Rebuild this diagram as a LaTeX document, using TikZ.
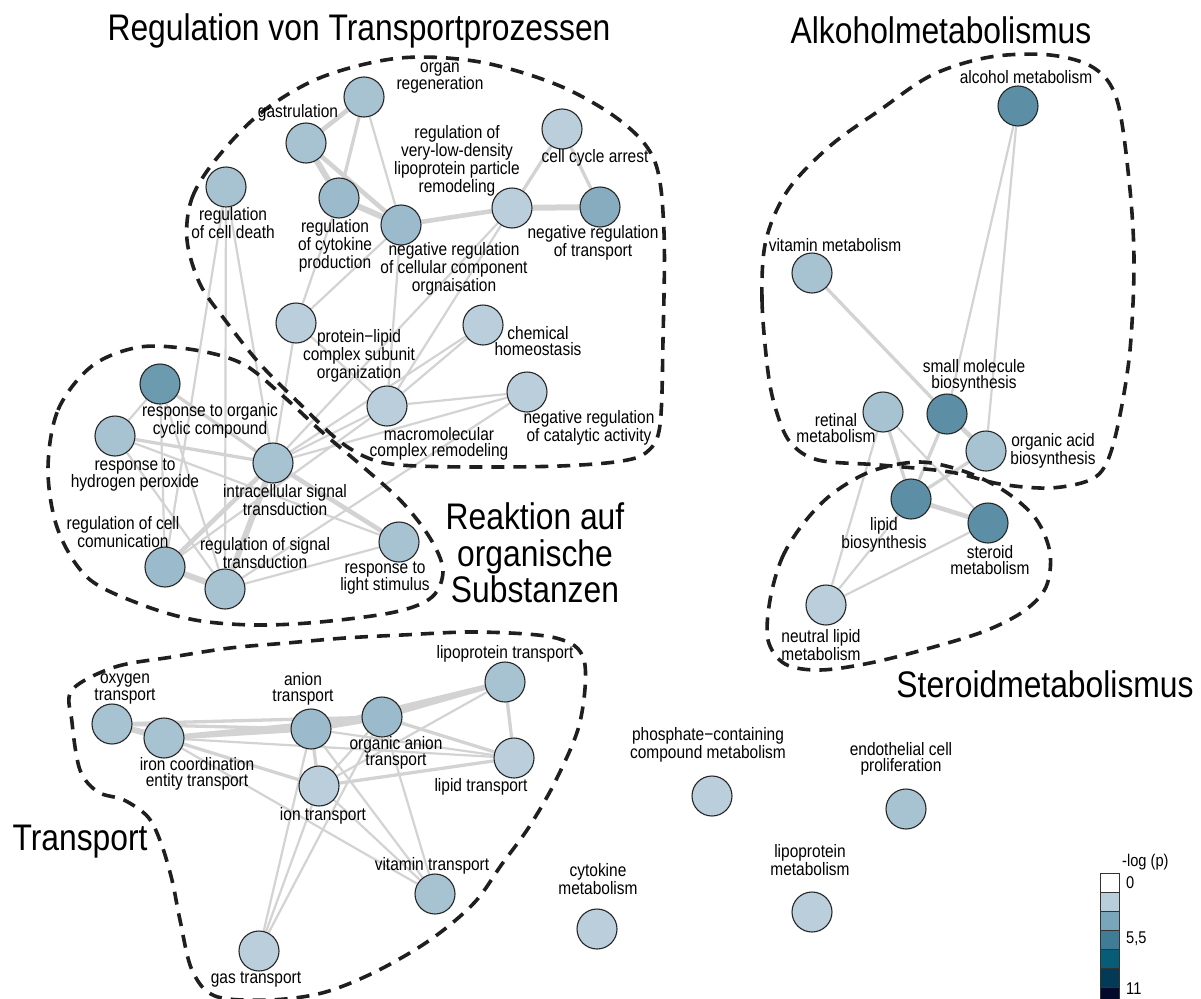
\documentclass[tikz,border=0pt]{standalone}
\usepackage{fontspec}
\setmainfont{Liberation Sans}[FakeStretch=0.86]
\usetikzlibrary{backgrounds}
\usepackage{xcolor}

\definecolor{edgegray}{HTML}{D3D3D3}
\definecolor{cA}{HTML}{BACFDB}
\definecolor{cB}{HTML}{A7C3D1}
\definecolor{cC}{HTML}{9BBACB}
\definecolor{cD}{HTML}{88ACBF}
\definecolor{cE}{HTML}{6C9BB0}
\definecolor{cF}{HTML}{5C8FA6}

\begin{document}
\begin{tikzpicture}[
		x=1pt, y=-1pt,
		% terms and labels
		term/.style={draw=black!85, circle, minimum size=40pt, inner sep=0pt, line width=1.1pt},
		lab/.style={font=\fontsize{18}{16.6}\selectfont, align=center, inner sep=0pt},
		heading/.style={font=\fontsize{37}{36.5}\selectfont, align=center, inner sep=0pt},
		% links between terms
		thin/.style={draw=edgegray, line width=2.2pt},
		mid/.style={draw=edgegray, line width=3.3pt},
		thick/.style={draw=edgegray, line width=4.6pt},
		heavy/.style={draw=edgegray, line width=6pt},
		% cluster outlines
		cluster/.style={draw=black!88, line width=3.6pt, dash pattern=on 13pt off 9pt},
		]
		\useasboundingbox (0,0) rectangle (1201,998);

		% Regulation von Transportprozessen
		\node[term, fill=cB] (orgreg) at (364,97) {};
		\node[term, fill=cB] (gastrul) at (306,143) {};
		\node[term, fill=cB] (celldeath) at (226,187) {};
		\node[term, fill=cC] (cytokine) at (339,198) {};
		\node[term, fill=cC] (negcell) at (401,225) {};
		\node[term, fill=cA] (vldl) at (512,208) {};
		\node[term, fill=cA] (cellcycle) at (562,129) {};
		\node[term, fill=cD] (negtrans) at (600,207) {};
		\node[term, fill=cA] (protlip) at (296,323) {};
		\node[term, fill=cA] (chemhom) at (483,325) {};
		\node[term, fill=cA] (macro) at (387,406) {};
		\node[term, fill=cA] (negcat) at (527,392) {};

		% Reaktion auf organische Substanzen
		\node[term, fill=cE] (orgcyc) at (160,384) {};
		\node[term, fill=cB] (hydro) at (115,436) {};
		\node[term, fill=cB] (intra) at (273,463) {};
		\node[term, fill=cC] (cellcom) at (165,567) {};
		\node[term, fill=cB] (sigtrans) at (225,589) {};
		\node[term, fill=cB] (light) at (399,542) {};

		% Alkohol- und Steroidmetabolismus
		\node[term, fill=cF] (alcohol) at (1018,106) {};
		\node[term, fill=cB] (vitmet) at (812,273) {};
		\node[term, fill=cF] (smallmol) at (947,414) {};
		\node[term, fill=cB] (retinal) at (883,412) {};
		\node[term, fill=cB] (orgacid) at (986,451) {};
		\node[term, fill=cF] (lipbio) at (911,499) {};
		\node[term, fill=cF] (steroid) at (988,523) {};
		\node[term, fill=cA] (neutral) at (826,605) {};

		% Transport
		\node[term, fill=cB] (oxygen) at (112,724) {};
		\node[term, fill=cB] (iron) at (164,738) {};
		\node[term, fill=cC] (anion) at (311,729) {};
		\node[term, fill=cC] (organion) at (382,717) {};
		\node[term, fill=cB] (lipoprot) at (505,682) {};
		\node[term, fill=cA] (lipidtr) at (514,758) {};
		\node[term, fill=cA] (iontr) at (319,786) {};
		\node[term, fill=cB] (vittr) at (435,894) {};
		\node[term, fill=cA] (gastrans) at (259,951) {};

		% single terms
		\node[term, fill=cA] (phosph) at (712,796) {};
		\node[term, fill=cB] (endoth) at (906,809) {};
		\node[term, fill=cA] (lipomet) at (812,912) {};
		\node[term, fill=cA] (cytomet) at (597,929) {};

		% Links
		\begin{scope}[on background layer]
			\foreach \a/\b in {orgreg/negcell, cytokine/protlip, negcell/protlip, negcell/macro,
					vldl/macro, vldl/intra, protlip/intra, protlip/macro, chemhom/macro, chemhom/intra,
					negcat/macro, negcat/intra, negcat/sigtrans, macro/intra, macro/cellcom,
					celldeath/cellcom, celldeath/sigtrans, celldeath/intra,
					orgcyc/hydro, orgcyc/sigtrans, orgcyc/cellcom, hydro/sigtrans, hydro/light, sigtrans/light,
					iron/lipidtr, iron/vittr, anion/lipidtr, anion/vittr, anion/gastrans,
					organion/iontr, organion/gastrans, organion/vittr, lipoprot/iontr,
					iontr/gastrans, iontr/vittr,
					alcohol/smallmol, alcohol/orgacid, retinal/steroid, retinal/neutral,
					lipbio/neutral, steroid/neutral}
				\draw[thin] (\a) -- (\b);
			\foreach \a/\b in {orgreg/cytokine, vldl/cellcycle, cellcycle/negtrans,
					orgcyc/intra, hydro/intra,
					oxygen/anion, oxygen/organion, iron/iontr, anion/iontr, organion/lipidtr,
					lipoprot/lipidtr, lipidtr/iontr,
					vitmet/smallmol, smallmol/lipbio, retinal/lipbio, orgacid/lipbio}
				\draw[mid] (\a) -- (\b);
			\foreach \a/\b in {orgreg/gastrul, gastrul/negcell, negcell/vldl,
					intra/cellcom, intra/light,
					iron/anion, iron/organion, anion/lipoprot, organion/lipoprot,
					smallmol/orgacid, lipbio/steroid}
				\draw[thick] (\a) -- (\b);
			\foreach \a/\b in {gastrul/cytokine, cytokine/negcell, vldl/negtrans,
					intra/sigtrans, cellcom/sigtrans,
					oxygen/iron, anion/organion}
				\draw[heavy] (\a) -- (\b);
		\end{scope}

		% Cluster outlines
		\draw[cluster] plot[smooth cycle, tension=0.55] coordinates {
				(187,240) (192,198) (217,158) (262,112) (322,77) (400,58) (480,62) (560,86)
				(622,122) (655,162) (664,232) (663,340) (660,425) (648,451) (622,461)
				(560,466) (470,467) (400,465) (368,458) (338,440) (300,404) (260,364) (225,320) (200,284)};
		\draw[cluster] plot[smooth cycle, tension=0.55] coordinates {
				(48,470) (58,410) (92,366) (140,347) (195,350) (243,364) (283,396) (322,432)
				(362,466) (402,502) (430,538) (443,570) (432,597) (395,612) (320,622) (255,625)
				(195,620) (140,604) (88,578) (58,530)};
		\draw[cluster] plot[smooth cycle, tension=0.55] coordinates {
				(768,372) (762,300) (766,240) (788,190) (830,146) (880,110) (932,75) (990,57)
				(1050,55) (1094,68) (1117,100) (1129,180) (1134,260) (1130,350) (1119,420)
				(1107,462) (1090,480) (1050,488) (1000,484) (950,472) (880,465) (818,460) (790,442) (776,410)};
		\draw[cluster] plot[smooth cycle, tension=0.55] coordinates {
				(770,600) (782,558) (803,524) (832,494) (872,471) (920,462) (966,472) (1006,492)
				(1036,519) (1050,553) (1046,587) (1024,611) (985,631) (930,648) (870,663)
				(820,670) (785,664) (768,640)};
		\draw[cluster] plot[smooth cycle, tension=0.55] coordinates {
				(72,690) (115,667) (172,657) (230,648) (287,643) (345,638) (402,635) (479,632)
				(556,638) (584,660) (580,722) (556,780) (529,827) (502,864) (474,903) (430,940)
				(375,972) (322,993) (268,1000) (215,996) (192,970) (180,920) (172,880) (161,843)
				(148,817) (124,800) (98,792) (80,770) (72,722)};

		% Term labels
		\node[lab] (orgreg-t) at (440,78) {organ\\regeneration};
		\node[lab] (gastrul-t) at (298,113) {gastrulation};
		\node[lab] (celldeath-t) at (233,223) {regulation\\of cell death};
		\node[lab] (cytokine-t) at (335,246) {regulation\\of cytokine\\production};
		\node[lab] (negcell-t) at (454,269) {negative regulation\\of cellular component\\orgnaisation};
		\node[lab] (vldl-t) at (457,161) {regulation of\\very-low-density\\lipoprotein particle\\remodeling};
		\node[lab] (cellcycle-t) at (595,158) {cell cycle arrest};
		\node[lab] (negtrans-t) at (593,243) {negative regulation\\of transport};
		\node[lab] (protlip-t) at (359,356) {protein\textminus lipid\\complex subunit\\organization};
		\node[lab] (chemhom-t) at (538,341) {chemical\\homeostasis};
		\node[lab] (macro-t) at (439,444) {macromolecular\\complex remodeling};
		\node[lab] (negcat-t) at (589,428) {negative regulation\\of catalytic activity};

		\node[lab] (orgcyc-t) at (210,421) {response to organic\\cyclic compound};
		\node[lab] (hydro-t) at (135,475) {response to\\hydrogen peroxide};
		\node[lab] (intra-t) at (285,500) {intracellular signal\\transduction};
		\node[lab] (cellcom-t) at (123,532) {regulation of cell\\comunication};
		\node[lab] (sigtrans-t) at (265,553) {regulation of signal\\transduction};
		\node[lab] (light-t) at (385,578) {response to\\light stimulus};

		\node[lab] (alcohol-t) at (1026,77) {alcohol metabolism};
		\node[lab] (vitmet-t) at (835,245) {vitamin metabolism};
		\node[lab] (smallmol-t) at (974,376) {small molecule\\biosynthesis};
		\node[lab] (retinal-t) at (836,428) {retinal\\metabolism};
		\node[lab] (orgacid-t) at (1053,451) {organic acid\\biosynthesis};
		\node[lab] (lipbio-t) at (884,535) {lipid\\biosynthesis};
		\node[lab] (steroid-t) at (990,560) {steroid\\metabolism};
		\node[lab] (neutral-t) at (821,645) {neutral lipid\\metabolism};

		\node[lab] (oxygen-t) at (125,689) {oxygen\\transport};
		\node[lab] (iron-t) at (197,774) {iron coordination\\entity transport};
		\node[lab] (anion-t) at (303,689) {anion\\transport};
		\node[lab] (organion-t) at (396,753) {organic anion\\transport};
		\node[lab] (lipoprot-t) at (505,654) {lipoprotein transport};
		\node[lab] (lipidtr-t) at (481,787) {lipid transport};
		\node[lab] (iontr-t) at (323,816) {ion transport};
		\node[lab] (vittr-t) at (432,866) {vitamin transport};
		\node[lab] (gastrans-t) at (256,980) {gas transport};

		\node[lab] (phosph-t) at (708,745) {phosphate\textminus containing\\compound metabolism};
		\node[lab] (endoth-t) at (901,759) {endothelial cell\\proliferation};
		\node[lab] (lipomet-t) at (810,860) {lipoprotein\\metabolism};
		\node[lab] (cytomet-t) at (598,879) {cytokine\\metabolism};

		% Cluster headings
		\node[heading] (head-reg) at (359,31) {Regulation von Transportprozessen};
		\node[heading] (head-reak) at (535,553) {Reaktion auf\\organische\\Substanzen};
		\node[heading] (head-alk) at (941,30) {Alkoholmetabolismus};
		\node[heading] (head-ster) at (1045,684) {Steroidmetabolismus};
		\node[heading] (head-trans) at (80,842) {Transport};

		% Legend
		\foreach \c [count=\i from 0] in {FFFFFF, B8CEDB, 7AA6BB, 3F7D96, 075C78, 033B56, 02092A} {
			\definecolor{legc}{HTML}{\c}
			\node[draw=black!80, line width=0.9pt, fill=legc, minimum width=19pt, minimum height=19pt,
				inner sep=0pt, anchor=north west] (leg\i) at (1100,873+19*\i) {};
		}
		\node[lab, anchor=west, font=\fontsize{17}{16}\selectfont] (leg-title) at (1122,862) {-log (p)};
		\node[lab, anchor=west, font=\fontsize{17}{16}\selectfont] (leg-lo) at (1126,883) {0};
		\node[lab, anchor=west, font=\fontsize{17}{16}\selectfont] (leg-mid) at (1126,939) {5,5};
		\node[lab, anchor=west, font=\fontsize{17}{16}\selectfont] (leg-hi) at (1126,989) {11};
	\end{tikzpicture}
\end{document}
